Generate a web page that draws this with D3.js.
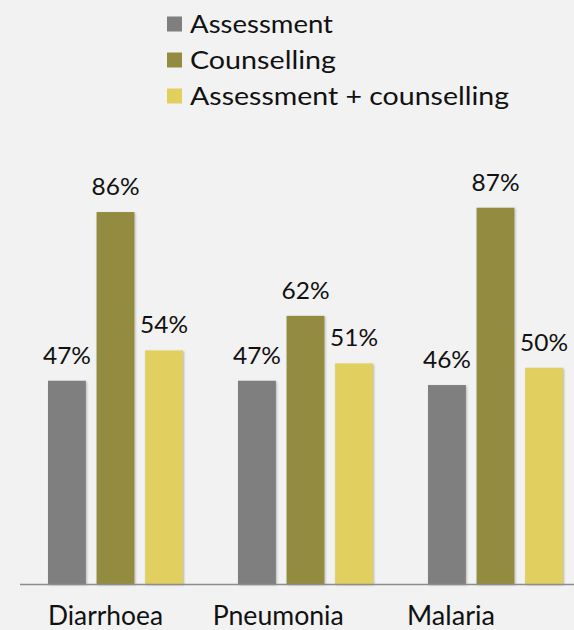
<!DOCTYPE html>
<html><head><meta charset="utf-8">
<script src="https://cdn.jsdelivr.net/npm/d3@7"></script>
<style>html,body{margin:0;padding:0;background:#f2f2f2;}svg{display:block;}</style>
</head><body>
<script>
const categories = ["Diarrhoea", "Pneumonia", "Malaria"];
const seriesNames = ["Assessment", "Counselling", "Assessment + counselling"];
const assessment = [0.47, 0.47, 0.46];
const counselling = [0.86, 0.62, 0.87];
const combined = [0.54, 0.51, 0.50];
const seriesValues = [assessment, counselling, combined];
const colors = ["#7f7f7f", "#938c40", "#e1d05e"];

const W = 574, H = 630;
const font = "Lato, 'DejaVu Sans', sans-serif";
const svg = d3.select("body").append("svg").attr("width", W).attr("height", H);
svg.append("rect").attr("width", W).attr("height", H).attr("fill", "#f2f2f2");

const defs = svg.append("defs");
const f = defs.append("filter").attr("id", "sh").attr("x", "-20%").attr("y", "-20%").attr("width", "140%").attr("height", "140%");
f.append("feDropShadow").attr("dx", 1).attr("dy", 1).attr("stdDeviation", 1.2).attr("flood-color", "#000").attr("flood-opacity", 0.25);

const baseY = 584;
const y = d3.scaleLinear().domain([0, 1]).range([baseY, 151.5]);
const x0 = d3.scaleBand().domain(categories).range([20, 590]).paddingInner(0).paddingOuter(0);
const x1 = d3.scaleBand().domain(seriesNames).range([28, 163]).paddingInner(0.22).paddingOuter(0);
const labelX = d3.scalePoint().domain(categories).range([105.5, 451]);
const catWidths = {"Diarrhoea": 115, "Pneumonia": 131, "Malaria": 88};
const legWidths = [143, 146, 319];

const g = svg.append("g");
categories.forEach((c, ci) => {
  seriesNames.forEach((s, si) => {
    const v = seriesValues[si][ci];
    const bx = x0(c) + x1(s);
    g.append("rect").attr("x", bx).attr("y", y(v)).attr("width", x1.bandwidth()).attr("height", baseY - y(v))
      .attr("fill", colors[si]).attr("filter", "url(#sh)");
    g.append("text").attr("x", bx + x1.bandwidth() / 2).attr("y", y(v) - 17)
      .attr("text-anchor", "middle").attr("font-family", font).attr("font-size", 23).attr("fill", "#111")
      .attr("textLength", 48).attr("lengthAdjust", "spacingAndGlyphs")
      .text(Math.round(v * 100) + "%");
  });
});

svg.append("line").attr("x1", 20).attr("x2", W).attr("y1", baseY + 0.5).attr("y2", baseY + 0.5)
  .attr("stroke", "#8c8c8c").attr("stroke-width", 1.5);

categories.forEach(c => {
  svg.append("text").attr("x", labelX(c)).attr("y", 625).attr("text-anchor", "middle")
    .attr("font-family", font).attr("font-size", 26).attr("fill", "#111")
    .attr("textLength", catWidths[c]).attr("lengthAdjust", "spacingAndGlyphs").text(c);
});

const leg = d3.scalePoint().domain(seriesNames).range([24, 96]);
seriesNames.forEach((s, i) => {
  svg.append("rect").attr("x", 167).attr("y", leg(s) - 7.5).attr("width", 15).attr("height", 15).attr("fill", colors[i]);
  svg.append("text").attr("x", 190).attr("y", leg(s) + 9).attr("font-family", font).attr("font-size", 25)
    .attr("fill", "#111").attr("textLength", legWidths[i]).attr("lengthAdjust", "spacingAndGlyphs").text(s);
});
</script>
</body></html>
